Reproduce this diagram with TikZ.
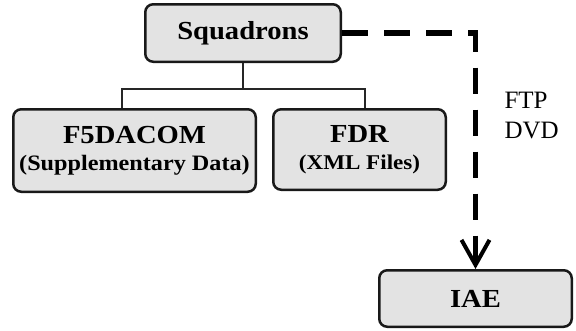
\documentclass[tikz,border=0pt]{standalone}
\usepackage{fontspec}
\setmainfont{Liberation Serif}
\newfontfamily\titlefont[FakeStretch=1.1]{Liberation Serif}
\usetikzlibrary{arrows.meta}
\begin{document}
\begin{tikzpicture}[x=1pt,y=-1pt,
 box/.style={draw=black!90, line width=2.5pt, fill=gray!22, rounded corners=8pt, inner sep=0pt, align=center},
 tree/.style={line width=1.5pt, draw=black!85},
 flow/.style={line width=5.5pt, dash pattern=on 26pt off 16pt, -{Straight Barb[length=25pt,width=28pt,line width=4pt]}},
 ttl/.style={font=\titlefont\bfseries\fontsize{26}{26.7}\selectfont}
]
\useasboundingbox (0,0) rectangle (576,330);
\node[box, ttl, minimum width=195.5pt, minimum height=57.5pt] (sq) at (243,33) {Squadrons};
\node[box, ttl, minimum width=242.5pt, minimum height=82.5pt] (f5) at (134.5,150.5) {F5DACOM\\\bfseries\fontsize{22}{26.7}\selectfont (Supplementary Data)};
\node[box, ttl, minimum width=172.5pt, minimum height=80.5pt] (fdr) at (359.5,149.5) {FDR\\\bfseries\fontsize{21}{26.7}\selectfont (XML Files)};
\node[box, ttl, minimum width=192.5pt, minimum height=56.5pt] (iae) at (475.5,298.5) {IAE};
\coordinate (bl) at (122,89);
\coordinate (bre) at (365,89);
\draw[tree] (sq.south) -- (sq.south |- bl);
\draw[tree] (f5.north -| bl) -- (bl) -- (bre) -- (fdr.north -| bre);
\draw[flow] (sq.east) -| (iae.north);
\node[anchor=west, align=left, font=\fontsize{25}{30}\selectfont] (lbl) at (501,116) {FTP\\DVD};
\end{tikzpicture}
\end{document}
